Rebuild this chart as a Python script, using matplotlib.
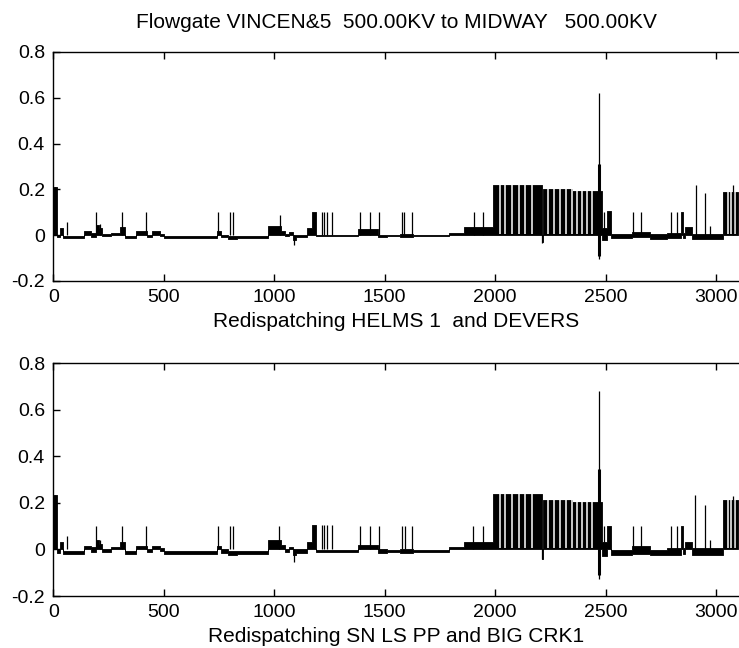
import matplotlib
matplotlib.use("Agg")
import matplotlib.pyplot as plt
import numpy as np

plt.rcParams['font.family'] = ['Liberation Sans', 'DejaVu Sans']

# step edges shared by both panels (case index)
edges = [0, 18, 30, 45, 140, 170, 195, 205, 220, 260, 300, 325, 375, 425, 445,
         485, 500, 740, 760, 790, 830, 970, 1030, 1050, 1065, 1085, 1100, 1150,
         1170, 1190, 1380, 1470, 1510, 1570, 1630, 1790, 1860, 1992, 2211, 2216,
         2350, 2482, 2506, 2525, 2620, 2700, 2780, 2842, 2852, 2860, 2890, 3030, 3100]

# top panel: HELMS 1 and DEVERS
top_lo = [0, -0.01, 0, -0.012, 0, -0.01, 0, 0, -0.005, 0, 0, -0.012, 0, -0.01,
          0, -0.005, -0.012, 0, -0.01, -0.015, -0.012, 0, 0, -0.005, 0, -0.02,
          -0.01, 0, 0, -0.004, 0, -0.01, -0.005, -0.01, -0.004, 0, 0, 0, -0.03,
          0, 0, -0.02, 0, -0.012, -0.01, -0.018, -0.012, 0, -0.012, 0, -0.018, 0]
top_hi = [0.21, 0, 0.03, -0.002, 0.02, 0.01, 0.045, 0.03, 0.004, 0.01, 0.035, -0.004,
          0.02, 0, 0.02, 0.004, -0.004, 0.02, 0, -0.002, -0.004, 0.04, 0.02, 0.004,
          0.015, 0, 0, 0.03, 0.1, 0.002, 0.025, 0, 0, 0.004, 0.002, 0.01, 0.035,
          0.22, 0, 0.203, 0.195, 0.03, 0.105, 0.004, 0.015, 0.004, 0.008, 0.1,
          0.008, 0.035, 0.004, 0.19]
top_spike_x = [8, 63, 192, 210, 312, 420, 744, 800, 812, 1026, 1090, 1215, 1227,
               1240, 1260, 1389, 1434, 1476, 1577, 1588, 1622, 1906, 1947, 2213,
               2469, 2469, 2493, 2623, 2660, 2796, 2822, 2909, 2950, 2972, 3076]
top_spike_y = [0.21, 0.058, 0.1, 0.05, 0.1, 0.1, 0.1, 0.1, 0.1, 0.09, -0.045,
               0.1, 0.1, 0.1, 0.1, 0.1, 0.1, 0.1, 0.1, 0.1, 0.1, 0.1, 0.1, -0.035,
               0.62, -0.105, 0.1, 0.1, 0.1, 0.1, 0.1, 0.22, 0.185, 0.04, 0.22]
top_burst = [0.31, -0.09]

# bottom panel: SN LS PP and BIG CRK1
bot_lo = [0, -0.015, 0, -0.018, 0, -0.01, 0, 0, -0.01, 0, 0, -0.018, 0, -0.01,
          0, -0.005, -0.02, 0, -0.015, -0.025, -0.02, 0, 0, -0.01, 0, -0.025,
          -0.015, 0, 0, -0.01, 0, -0.015, -0.01, -0.015, -0.01, 0, 0, 0, -0.04,
          0, 0, -0.03, 0, -0.022, -0.018, -0.025, -0.022, 0, -0.02, 0, -0.025, 0]
bot_hi = [0.235, 0, 0.03, -0.005, 0.015, 0.01, 0.04, 0.025, 0, 0.01, 0.03, -0.008,
          0.015, 0, 0.015, 0.004, -0.008, 0.015, 0, -0.005, -0.008, 0.04, 0.02, 0,
          0.01, 0, 0, 0.03, 0.105, -0.002, 0.02, 0, -0.002, 0, -0.002, 0.01, 0.032,
          0.238, 0, 0.212, 0.203, 0.03, 0.1, -0.002, 0.015, -0.002, 0.008, 0.1,
          0.008, 0.03, 0.004, 0.21]
bot_spike_x = [8, 63, 192, 210, 312, 420, 744, 800, 812, 1023, 1090, 1215, 1227,
               1240, 1260, 1389, 1434, 1476, 1577, 1592, 1622, 1900, 1943, 2213,
               2469, 2469, 2493, 2623, 2660, 2796, 2822, 2905, 2950, 2972, 3076]
bot_spike_y = [0.235, 0.057, 0.1, 0.04, 0.1, 0.1, 0.1, 0.1, 0.1, 0.1, -0.055,
               0.105, 0.105, 0.105, 0.105, 0.1, 0.1, 0.1, 0.1, 0.1, 0.1, 0.1, 0.1,
               -0.04, 0.68, -0.125, 0.1, 0.1, 0.1, 0.1, 0.1, 0.235, 0.19, 0.04, 0.23]
bot_burst = [0.345, -0.11]

# thin white gaps seen inside the dense blocks
gap_x = [2020, 2045, 2075, 2110, 2135, 2165, 2241, 2267, 2294, 2321, 2347,
         2369, 2392, 2415, 2437, 3055, 3068, 3085]

xticks = [0, 500, 1000, 1500, 2000, 2500, 3000]
yticks = [-0.2, 0, 0.2, 0.4, 0.6, 0.8]
ytick_labels = ['-0.2', '0', '0.2', '0.4', '0.6', '0.8']


def draw_panel(ax, lo, hi, sx, sy, burst, xlabel):
    x = np.array(edges, dtype=float)
    lo_s = np.append(lo, lo[-1])
    hi_s = np.append(hi, hi[-1])
    ax.fill_between(x, lo_s, hi_s, step='post', color='k', lw=0.6, edgecolor='k')
    ax.vlines(gap_x, 0.004, 0.26, color='white', lw=1.1)
    ax.vlines(sx, 0, sy, color='k', lw=0.9)
    ax.vlines([2470, 2470], [0, 0], burst, color='k', lw=2.2)

    ax.set_xlim(0, 3100)
    ax.set_ylim(-0.2, 0.8)
    ax.set_xticks(xticks)
    ax.set_yticks(yticks)
    ax.set_yticklabels(ytick_labels)
    ax.tick_params(direction='in', length=5, width=1, labelsize=14, pad=6,
                   top=True, right=False, colors='k')
    ax.spines['right'].set_visible(False)
    for s in ['left', 'top', 'bottom']:
        ax.spines[s].set_linewidth(1.0)
    ax.set_xlabel(xlabel, fontsize=15, labelpad=4)


fig = plt.figure(figsize=(7.39, 6.48), dpi=100)
ax1 = fig.add_axes([0.0721, 0.5664, 0.9267, 0.3534])
ax2 = fig.add_axes([0.0721, 0.0802, 0.9267, 0.3596])

draw_panel(ax1, top_lo, top_hi, top_spike_x, top_spike_y, top_burst,
           'Redispatching HELMS 1  and DEVERS')
draw_panel(ax2, bot_lo, bot_hi, bot_spike_x, bot_spike_y, bot_burst,
           'Redispatching SN LS PP and BIG CRK1')

fig.text(0.5365, 1 - 22 / 648, 'Flowgate VINCEN&5  500.00KV to MIDWAY   500.00KV',
         ha='center', va='center', fontsize=15)

fig.savefig('out.png', dpi=100)
